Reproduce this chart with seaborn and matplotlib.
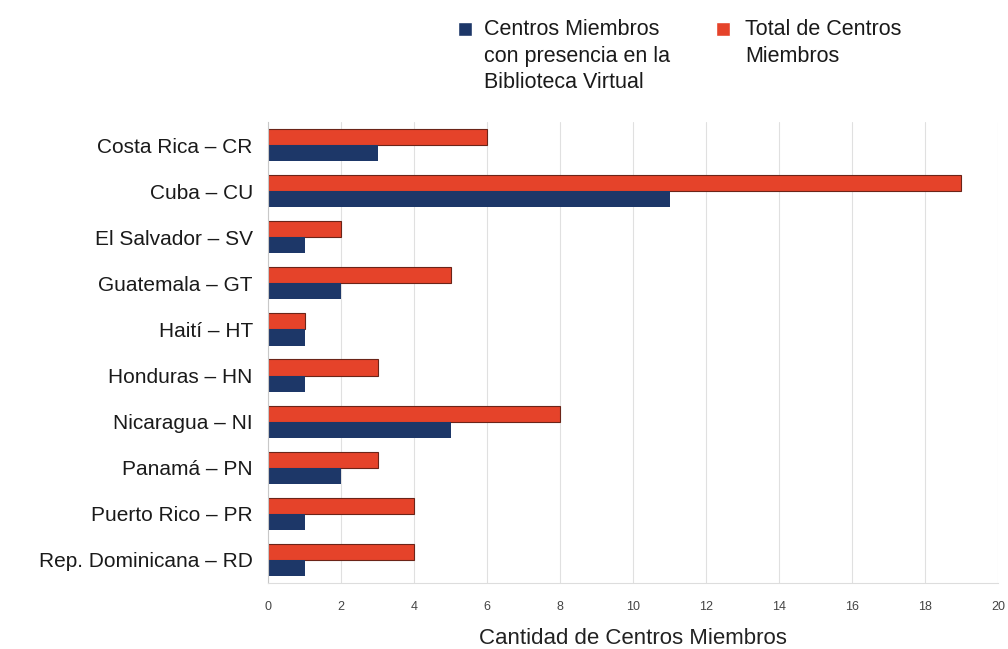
import matplotlib
matplotlib.use("Agg")
import matplotlib.pyplot as plt
import seaborn as sns
import pandas as pd
import numpy as np
from matplotlib.patches import Rectangle

paises = ["Costa Rica – CR", "Cuba – CU", "El Salvador – SV", "Guatemala – GT",
          "Haití – HT", "Honduras – HN", "Nicaragua – NI", "Panamá – PN",
          "Puerto Rico – PR", "Rep. Dominicana – RD"]
total_centros = [6, 19, 2, 5, 1, 3, 8, 3, 4, 4]
con_presencia = [3, 11, 1, 2, 1, 1, 5, 2, 1, 1]

serie_total = "Total de Centros\nMiembros"
serie_presencia = "Centros Miembros\ncon presencia en la\nBiblioteca Virtual"

df = pd.DataFrame({
    "pais": paises * 2,
    "valor": total_centros + con_presencia,
    "serie": [serie_total] * len(paises) + [serie_presencia] * len(paises),
})

col_rojo = "#e5432a"
col_azul = "#1d3768"

sns.set_style("white")
plt.rcParams["font.family"] = ["Liberation Sans", "DejaVu Sans"]

fig = plt.figure(figsize=(10.08, 6.49), dpi=100)
ax = fig.add_axes([0.266, 0.1017, 0.724, 0.7103])

sns.barplot(data=df, y="pais", x="valor", hue="serie", orient="h",
            hue_order=[serie_total, serie_presencia],
            palette=[col_rojo, col_azul], saturation=1, width=0.7, ax=ax,
            edgecolor="none", legend=False)
# borde oscuro en las barras rojas
for p in ax.containers[0]:
    p.set_edgecolor("#6b2418")
    p.set_linewidth(0.8)

ax.set_xlim(0, 20)
ax.set_xticks(range(0, 21, 2))
ax.xaxis.grid(True, color="#e0e0e0", linewidth=0.8)
ax.set_axisbelow(True)
for s in ["top", "right"]:
    ax.spines[s].set_visible(False)
ax.spines["left"].set_color("#c8c8c8")
ax.spines["bottom"].set_color("#dddddd")
ax.set_yticks(np.arange(len(paises) + 1) - 0.5, minor=True)
ax.tick_params(axis="y", which="minor", length=6, color="#c8c8c8", width=0.8)
ax.tick_params(axis="y", which="major", length=0, labelsize=15, colors="#1a1a1a", pad=11)
ax.tick_params(axis="x", labelsize=9, labelcolor="#444444", length=8,
               color="#e0e0e0", pad=5)
for lbl in ax.get_xticklabels():
    lbl.set_family(["Liberation Sans Narrow", "Liberation Sans"])
ax.set_ylabel("")
ax.set_xlabel("Cantidad de Centros Miembros", fontsize=16, color="#222222", labelpad=11)

# leyenda dibujada a mano para alinear el cuadro con la primera línea
H = 649.0
W = 1008.0
fig.patches.append(Rectangle((458 / W, 1 - 36 / H), 14 / W, 14 / H,
                             transform=fig.transFigure, facecolor=col_azul))
fig.patches.append(Rectangle((716 / W, 1 - 36 / H), 14 / W, 14 / H,
                             transform=fig.transFigure, facecolor=col_rojo))
fig.text(484 / W, 1 - 19 / H, serie_presencia, fontsize=15.5, color="#1a1a1a",
         va="top", ha="left", linespacing=1.35)
fig.text(745 / W, 1 - 19 / H, serie_total, fontsize=15.5, color="#1a1a1a",
         va="top", ha="left", linespacing=1.35)

fig.savefig("out.png", dpi=100)
